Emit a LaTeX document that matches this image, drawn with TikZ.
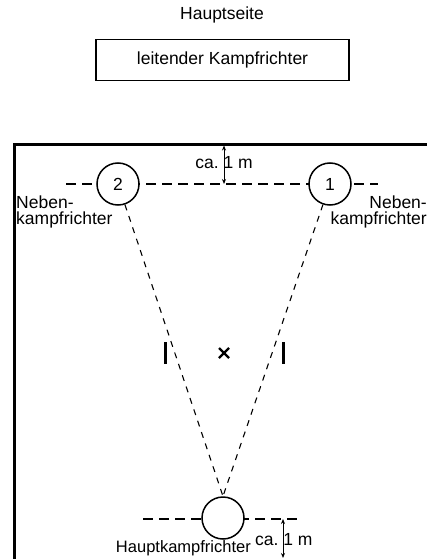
\documentclass[tikz,border=0pt]{standalone}
\usepackage{fontspec}
\setmainfont{Liberation Sans}
\usetikzlibrary{arrows.meta,calc}
\begin{document}
\begin{tikzpicture}[x=1pt,y=-1pt,
  lbl/.style={font=\fontsize{17.5}{16}\selectfont, inner sep=0pt, align=center},
  judge/.style={draw, circle, line width=1.5pt, minimum size=42pt, inner sep=0pt, fill=white, font=\fontsize{17.5}{17}\selectfont},
  axis/.style={line width=1.8pt, dash pattern=on 10pt off 6pt},
  sight/.style={line width=1.1pt, dash pattern=on 6pt off 6pt},
  dim/.style={line width=1pt, {Stealth[length=5pt,width=4pt]}-{Stealth[length=5pt,width=4pt]}},
  bar/.style={line width=3pt}
]
\useasboundingbox (0,0) rectangle (427,559);
\clip (0,0) rectangle (427,559);
% title
\node[lbl] (hs) at (222,15) {Hauptseite};
\node[lbl, draw, line width=1.5pt, minimum width=253pt, minimum height=41pt] (lk) at (222.5,60) {leitender Kampfrichter};
% field
\draw[line width=3pt] (14,144) rectangle (460,600);
% top line
\coordinate (tl) at (66,184);
\coordinate (tr) at (378,184);
\draw[axis] (tl) -- (tr);
\node[judge] (c2) at (118,184) {2};
\node[judge] (c1) at (330,184) {1};
% bottom line
\coordinate (bl) at (143,519);
\coordinate (br) at (303,519);
\draw[axis] (bl) -- (br);
\node[judge] (c0) at (223,518) {};
% sight lines
\draw[sight] (c2) -- (c0.north);
\draw[sight] (c1) -- (c0.north);
% labels
\node[lbl, align=left, anchor=north west] (nl) at (16,196) {Neben-\\kampfrichter};
\node[lbl, align=right, anchor=north east] (nr) at (427,196) {Neben-\\kampfrichter};
\node[lbl, font=\fontsize{16.5}{16}\selectfont, anchor=east] (hk) at (251,548) {Hauptkampfrichter};
% dimension top
\coordinate (dt1) at (224,145.5);
\coordinate (dt2) at (224,184);
\node[lbl] (ca1) at (224,163) {ca.~1 m};
\draw[dim] (dt1) -- (dt2);
% dimension bottom
\coordinate (db1) at (283,519);
\coordinate (db2) at (283,558);
\node[lbl, anchor=west] (ca2) at (255,540) {ca.~1 m};
\draw[dim] (db1) -- (db2);
% bars and centre
\coordinate (lb1) at (165,342); \coordinate (lb2) at (165,364);
\coordinate (rb1) at (283,342); \coordinate (rb2) at (283,364);
\draw[bar] (lb1) -- (lb2);
\draw[bar] (rb1) -- (rb2);
\coordinate (xc) at (224,353);
\draw[line width=2.2pt] ($(xc)+(-5,-5)$) -- ($(xc)+(5,5)$) ($(xc)+(-5,5)$) -- ($(xc)+(5,-5)$);
\end{tikzpicture}
\end{document}
